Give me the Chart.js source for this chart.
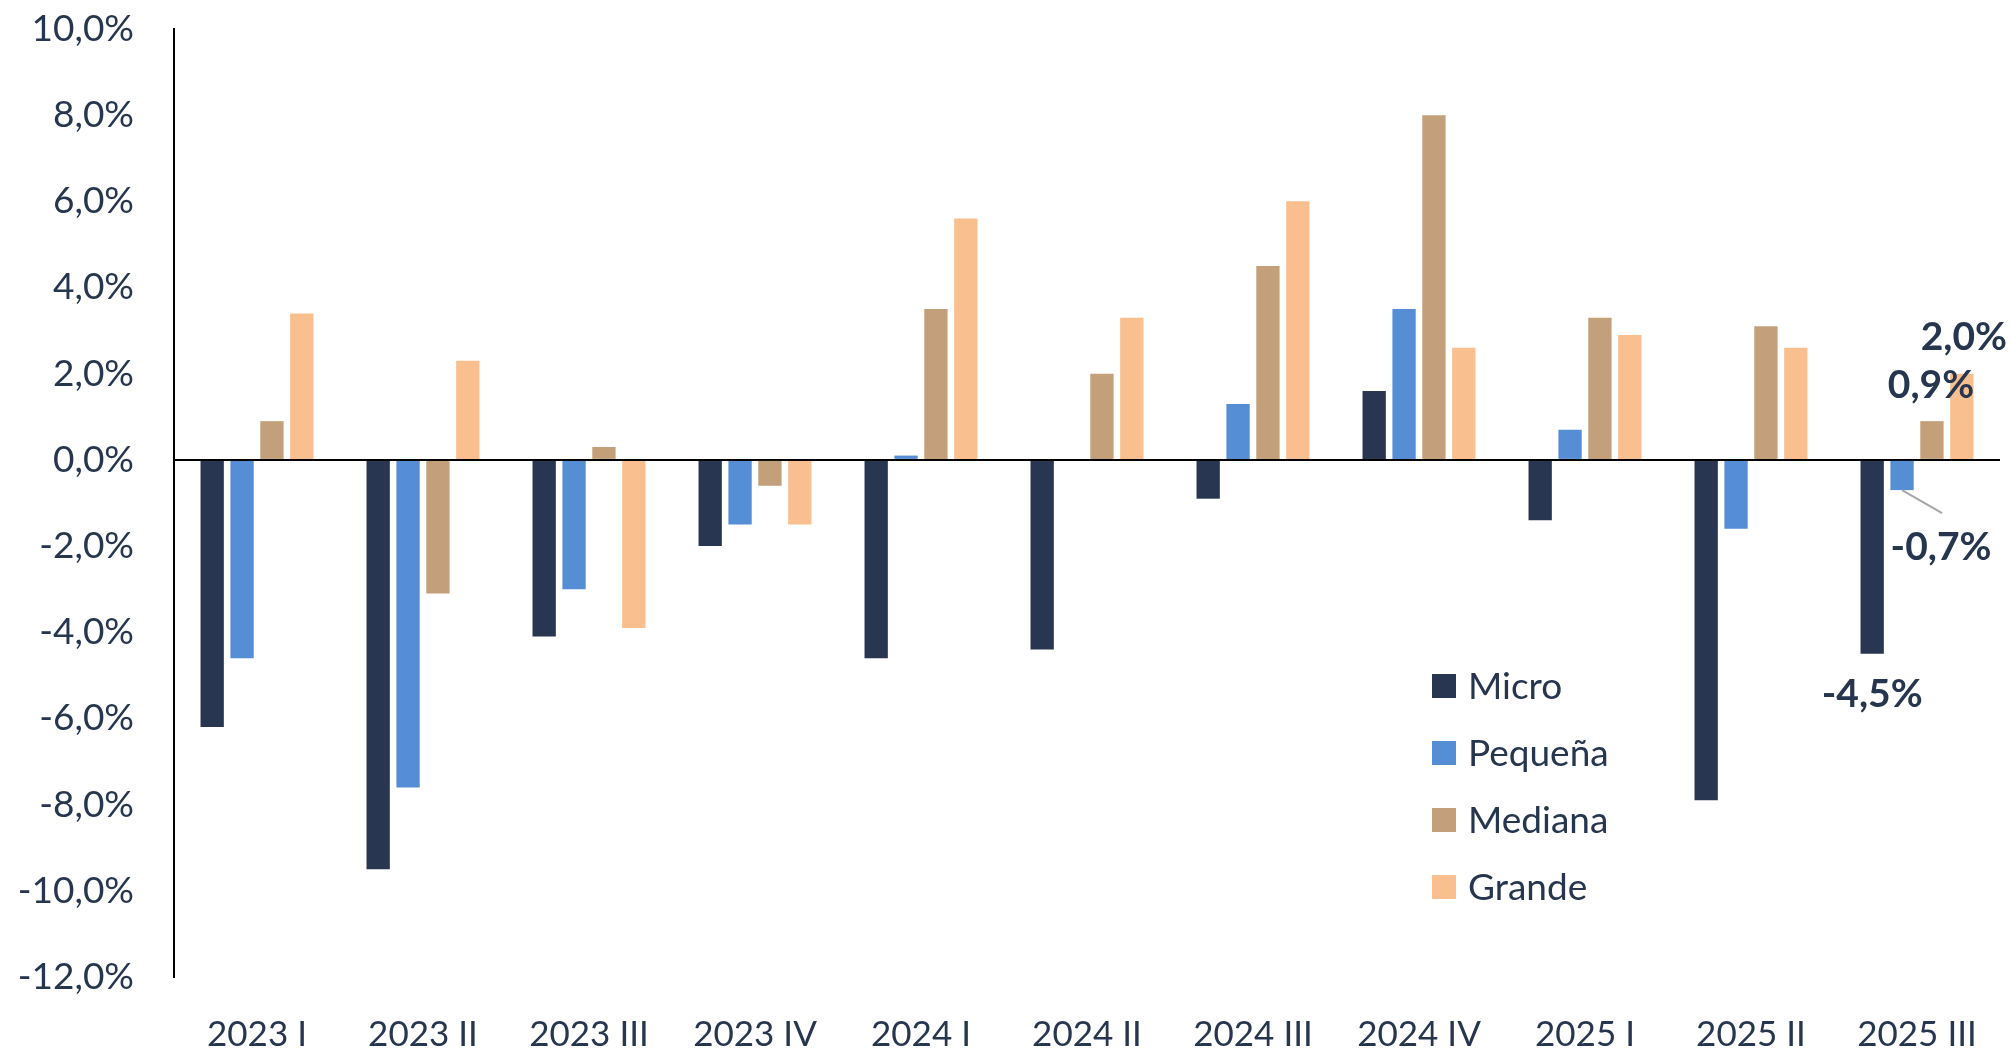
<!DOCTYPE html>
<html>
<head>
<meta charset="utf-8">
<script src="https://cdn.jsdelivr.net/npm/chart.js@4/dist/chart.umd.min.js"></script>
<style>
  html, body { margin: 0; padding: 0; background: #fff; }
  #wrap { width: 2010px; height: 1051px; }
</style>
</head>
<body>
<div id="wrap"><canvas id="chart" width="2010" height="1051"></canvas></div>
<script>
const quarters = ["2023 I", "2023 II", "2023 III", "2023 IV", "2024 I", "2024 II", "2024 III", "2024 IV", "2025 I", "2025 II", "2025 III"];
const micro   = [-6.2, -9.5, -4.1, -2.0, -4.6, -4.4, -0.9, 1.6, -1.4, -7.9, -4.5];
const pequena = [-4.6, -7.6, -3.0, -1.5,  0.1,  0.0,  1.3, 3.5,  0.7, -1.6, -0.7];
const mediana = [ 0.9, -3.1,  0.3, -0.6,  3.5,  2.0,  4.5, 8.0,  3.3,  3.1,  0.9];
const grande  = [ 3.4,  2.3, -3.9, -1.5,  5.6,  3.3,  6.0, 2.6,  2.9,  2.6,  2.0];
const seriesNames = ["Micro", "Pequeña", "Mediana", "Grande"];
const colors = ["#283651", "#558ED5", "#C4A07A", "#F9BF8F"];

const textColor = "#27364F";
const fontFamily = "Lato, 'Noto Sans', sans-serif";

function pct(v) {
  return v.toFixed(1).replace(".", ",") + "%";
}

// etiquetas solo en el último trimestre (desplazamientos en px)
const lastLabelOffsets = [
  { dx: 0, dy: 41 },
  { dx: 39, dy: 57, leader: true },
  { dx: -1, dy: -36 },
  { dx: 2, dy: -36 }
];

const lastLabels = {
  id: "lastLabels",
  afterDatasetsDraw(chart) {
    const ctx = chart.ctx;
    const idx = quarters.length - 1;
    ctx.save();
    ctx.font = "bold 39px " + fontFamily;
    ctx.fillStyle = textColor;
    ctx.textAlign = "center";
    ctx.textBaseline = "middle";
    chart.data.datasets.forEach((ds, i) => {
      const bar = chart.getDatasetMeta(i).data[idx];
      const off = lastLabelOffsets[i];
      const x = bar.x + off.dx;
      const y = bar.y + off.dy;
      if (off.leader) {
        ctx.strokeStyle = "#A6A6A6";
        ctx.lineWidth = 2;
        ctx.beginPath();
        ctx.moveTo(bar.x, bar.y);
        ctx.lineTo(bar.x + 40, bar.y + 23);
        ctx.stroke();
      }
      ctx.fillText(pct(ds.data[idx]), x, y);
    });
    ctx.restore();
  }
};

// leyenda dentro del área del gráfico
const insideLegend = {
  id: "insideLegend",
  afterDraw(chart) {
    const ctx = chart.ctx;
    ctx.save();
    ctx.font = "37px " + fontFamily;
    ctx.textBaseline = "middle";
    ctx.textAlign = "left";
    chart.data.datasets.forEach((ds, i) => {
      const cy = 686 + i * 67;
      ctx.fillStyle = ds.backgroundColor;
      ctx.fillRect(1432, cy - 12, 24, 24);
      ctx.fillStyle = textColor;
      ctx.fillText(ds.label, 1468, cy + 1);
    });
    ctx.restore();
  }
};

const allSeries = [micro, pequena, mediana, grande];

new Chart(document.getElementById("chart"), {
  type: "bar",
  data: {
    labels: quarters,
    datasets: allSeries.map((vals, i) => ({
      label: seriesNames[i],
      data: vals,
      backgroundColor: colors[i],
      borderWidth: 0,
      categoryPercentage: 0.72,
      barPercentage: 0.78
    }))
  },
  options: {
    responsive: false,
    animation: false,
    layout: { padding: { top: 29, right: 10, left: 0, bottom: 0 } },
    plugins: {
      legend: { display: false },
      tooltip: { enabled: false }
    },
    scales: {
      x: {
        grid: { display: false },
        border: { display: false },
        ticks: {
          color: textColor,
          font: { family: fontFamily, size: 35 },
          padding: 29,
          maxRotation: 0
        },
        afterFit(scale) {
          scale.height = 74;
          scale.paddingLeft = 0;
          scale.paddingRight = 0;
        }
      },
      y: {
        min: -12,
        max: 10,
        ticks: {
          stepSize: 2,
          color: textColor,
          font: { family: fontFamily, size: 37 },
          padding: 40,
          callback: v => pct(v)
        },
        grid: {
          drawTicks: false,
          lineWidth: 2,
          color: c => (c.tick && c.tick.value === 0 ? "#000000" : "rgba(0,0,0,0)")
        },
        border: { display: true, color: "#000000", width: 2 },
        afterFit(scale) {
          scale.width = 174;
          scale.paddingTop = 0;
          scale.paddingBottom = 0;
        }
      }
    }
  },
  plugins: [lastLabels, insideLegend]
});
</script>
</body>
</html>
